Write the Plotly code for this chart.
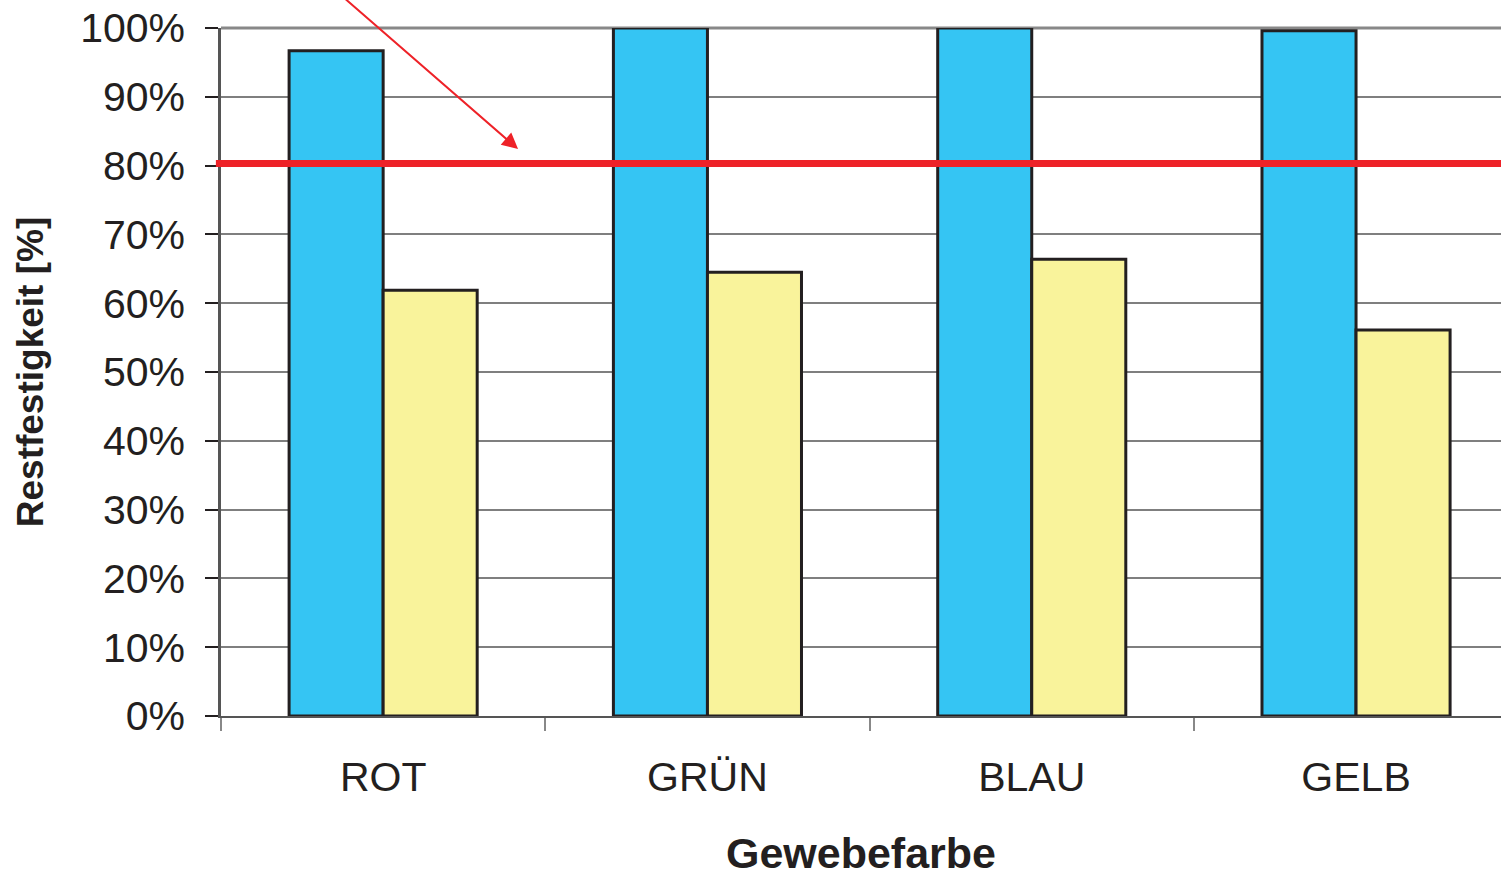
import plotly.graph_objects as go

categories = ["ROT", "GRÜN", "BLAU", "GELB"]
series_a = [96.7, 100.0, 100.0, 99.6]   # blue bars
series_b = [61.9, 64.5, 66.4, 56.1]     # yellow bars
threshold = [80.3]
y_ticks = [0, 10, 20, 30, 40, 50, 60, 70, 80, 90, 100]
y_tick_labels = [f"{v}%" for v in y_ticks]

TXT = "#231f20"
FONT = "Liberation Sans, Arial, Helvetica, sans-serif"

fig = go.Figure()
fig.add_trace(go.Bar(x=categories, y=series_a, marker=dict(color="#35c5f3", line=dict(color=TXT, width=3)),
                     showlegend=False))
fig.add_trace(go.Bar(x=categories, y=series_b, marker=dict(color="#f9f39b", line=dict(color=TXT, width=3)),
                     showlegend=False))

# threshold line
fig.add_shape(type="line", xref="paper", x0=-0.004, x1=1, yref="y", y0=threshold[0], y1=threshold[0],
              line=dict(color="#ee2228", width=7), layer="above")
# top border line
fig.add_shape(type="line", xref="paper", x0=0, x1=1, yref="y domain", y0=1, y1=1,
              line=dict(color="#888888", width=3), layer="below")

# arrow pointing to threshold
fig.add_annotation(x=0.416, y=82.4, xref="x", yref="y", ax=-0.16, ay=106, axref="x", ayref="y",
                   text="", showarrow=True, arrowhead=2, arrowsize=1.6, arrowwidth=2,
                   arrowcolor="#ee2228")

fig.update_layout(
    width=1501, height=877,
    margin=dict(l=221, r=0, t=28, b=161),
    paper_bgcolor="white", plot_bgcolor="white",
    barmode="group", bargap=0.42, bargroupgap=0,
    font=dict(family=FONT, color=TXT),
)
fig.update_xaxes(
    automargin=False,
    type="category", range=[-0.5, 3.447], tickson="boundaries",
    ticks="outside", ticklen=13, tickwidth=1.5, tickcolor="#888888",
    showgrid=False, showline=True, linecolor="#555555", linewidth=2,
    tickfont=dict(size=41, color=TXT, family=FONT), ticklabelstandoff=24,
    title=dict(text="<b>Gewebefarbe</b>", font=dict(size=43, color=TXT, family=FONT), standoff=40),
)
fig.update_yaxes(
    automargin=False,
    range=[0, 100], tickvals=y_ticks, ticktext=y_tick_labels,
    ticks="outside", ticklen=13, tickwidth=1.5, tickcolor=TXT, ticklabeloverflow="allow",
    showgrid=True, gridcolor="#7f7f7f", gridwidth=1.5,
    showline=True, linecolor="#555555", linewidth=2.5, zeroline=False,
    tickfont=dict(size=41, color=TXT, family=FONT), ticklabelstandoff=12,
    title=dict(text="<b>Restfestigkeit [%]</b>", font=dict(size=37, color=TXT, family=FONT), standoff=26),
)

fig.write_html("out.html", config={"displayModeBar": False},
               post_script="document.body.style.margin='0';document.body.style.overflow='hidden';")
